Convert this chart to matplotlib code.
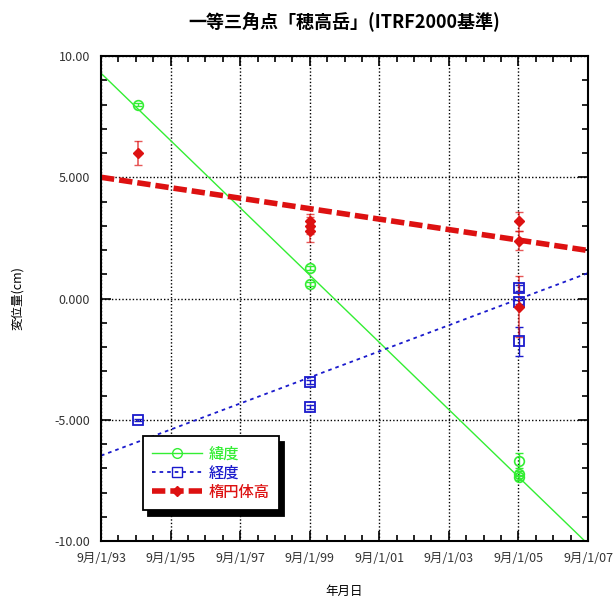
import matplotlib
matplotlib.use("Agg")
import matplotlib.pyplot as plt
from matplotlib.ticker import MultipleLocator, FixedLocator
import numpy as np

plt.rcParams['font.family'] = ['Noto Sans CJK JP', 'DejaVu Sans']

# time axis: decimal years, 9/1/93 .. 9/1/07
x_start = 1993 + 8 / 12
x_end = 2007 + 8 / 12
tick_labels = ["9月/1/93", "9月/1/95", "9月/1/97", "9月/1/99",
               "9月/1/01", "9月/1/03", "9月/1/05", "9月/1/07"]

# 緯度 (latitude)
lat_t = [1994.72, 1999.67, 1999.67, 2005.67, 2005.67, 2005.67]
lat_v = [8.0, 1.27, 0.61, -6.68, -7.23, -7.37]
lat_e = [0.08, 0.08, 0.08, 0.3, 0.1, 0.1]
lat_fit = [9.29, -10.13]

# 経度 (longitude)
lon_t = [1994.72, 1999.67, 1999.67, 2005.67, 2005.67, 2005.67]
lon_v = [-5.0, -3.45, -4.48, 0.44, -0.15, -1.76]
lon_e = [0.05, 0.08, 0.08, 0.12, 0.08, 0.6]
lon_fit = [-6.48, 1.05]

# 楕円体高 (ellipsoidal height)
hgt_t = [1994.72, 1999.67, 1999.67, 1999.67, 2005.67, 2005.67, 2005.67]
hgt_v = [6.0, 3.2, 3.0, 2.8, 3.18, 2.39, -0.33]
hgt_e = [0.5, 0.3, 0.35, 0.45, 0.4, 0.4, 1.25]
hgt_fit = [5.0, 1.98]

green = "#33ee33"
blue = "#1a1acc"
red = "#dd1111"

fig = plt.figure(figsize=(6.16, 6.03), dpi=100)
ax = fig.add_axes([0.164, 0.1028, 0.7906, 0.8043])

fit_x = [x_start, x_end]

# error bars
ax.errorbar(lat_t, lat_v, yerr=lat_e, fmt="none", ecolor=green, elinewidth=1, capsize=3, zorder=3)
ax.errorbar(lon_t, lon_v, yerr=lon_e, fmt="none", ecolor=blue, elinewidth=1, capsize=3, zorder=3)
ax.errorbar(hgt_t, hgt_v, yerr=hgt_e, fmt="none", ecolor=red, elinewidth=1.2, capsize=3, alpha=0.7, zorder=3)

# trend lines
ax.plot(fit_x, lat_fit, color=green, lw=1, zorder=2)
ax.plot(fit_x, lon_fit, color=blue, lw=1.3, ls=(0, (2, 2.2)), zorder=2)
ax.plot(fit_x, hgt_fit, color=red, lw=4, ls=(0, (2.4, 0.9)), zorder=2)

# observed points
ax.plot(lat_t, lat_v, ls="none", marker="o", ms=7, mfc="none", mec=green, mew=1.2, zorder=4)
ax.plot(lon_t, lon_v, ls="none", marker="s", ms=7, mfc="none", mec=blue, mew=1.3, zorder=4)
ax.plot(hgt_t, hgt_v, ls="none", marker="D", ms=5.5, color=red, zorder=4)

# legend proxies
h_lat, = ax.plot([], [], color=green, lw=1, marker="o", ms=7, mfc="none", mec=green)
h_lon, = ax.plot([], [], color=blue, lw=1.3, ls=(0, (2, 2.2)), marker="s", ms=7, mfc="none", mec=blue)
h_hgt, = ax.plot([], [], color=red, lw=4, ls=(0, (2.4, 0.9)), marker="D", ms=5.5)

leg = ax.legend([h_lat, h_lon, h_hgt], ["緯度", "経度", "楕円体高"],
                loc="lower left", bbox_to_anchor=(0.086, 0.064), borderaxespad=0,
                fancybox=False, framealpha=1, edgecolor="black",
                prop={"size": 11, "weight": "medium"},
                handlelength=3.3, handletextpad=0.4, labelspacing=0.15, borderpad=0.6,
                shadow={"ox": 4, "oy": -4, "color": "black", "alpha": 1})
leg.get_frame().set_linewidth(1.3)
for txt, c in zip(leg.get_texts(), [green, blue, red]):
    txt.set_color(c)

ax.set_xlim(x_start, x_end)
ax.set_ylim(-10, 10)
ax.xaxis.set_major_locator(FixedLocator(np.arange(len(tick_labels)) * 2 + x_start))
ax.set_xticklabels(tick_labels)
ax.xaxis.set_minor_locator(FixedLocator(np.arange(0, 14.01, 0.5) + x_start))
ax.yaxis.set_major_locator(MultipleLocator(5))
ax.yaxis.set_minor_locator(MultipleLocator(1))
ax.set_yticks([-10, -5, 0, 5, 10])
ax.set_yticklabels(["-10.00", "-5.000", "0.000", "5.000", "10.00"])

ax.tick_params(which="both", direction="in", top=True, right=True, width=1.2)
ax.tick_params(which="major", length=7, labelsize=9, labelcolor="#333333", pad=8)
ax.tick_params(which="minor", length=4)
for s in ax.spines.values():
    s.set_linewidth(1.5)

ax.grid(True, which="major", color="black", ls=(0, (1, 1.5)), lw=1)

ax.set_title("一等三角点「穂高岳」(ITRF2000基準)", fontsize=13, fontweight="bold", pad=21, x=0.5)
ax.set_xlabel("年月日", fontsize=9, labelpad=14)
ax.set_ylabel("変位量(cm)", fontsize=9, labelpad=22)

fig.savefig("out.png", dpi=100)
